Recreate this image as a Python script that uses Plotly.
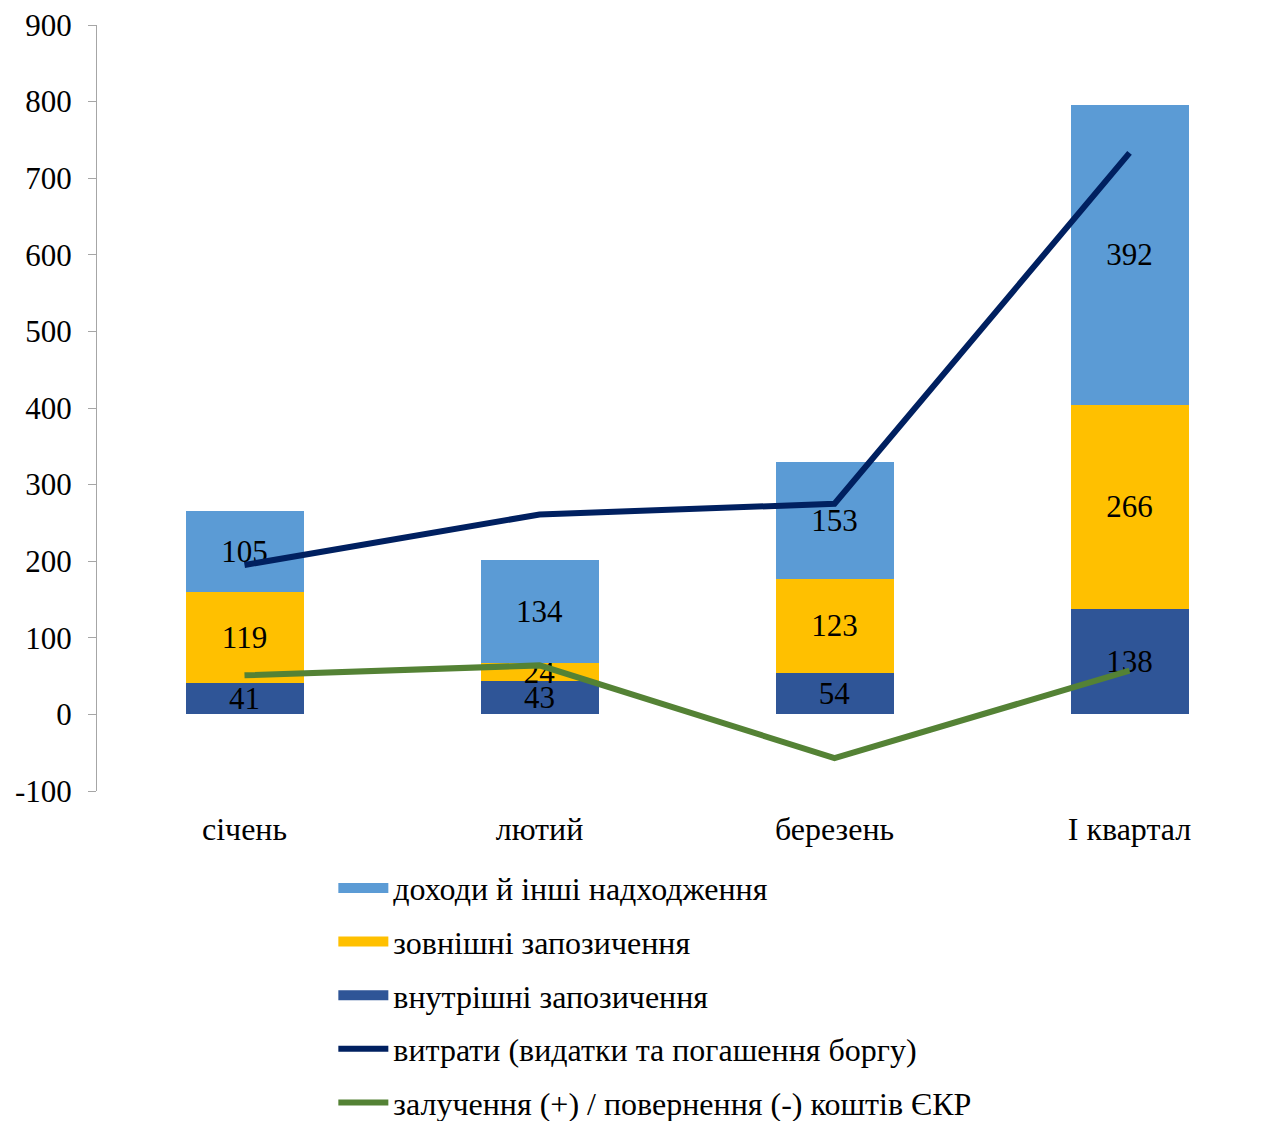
import plotly.graph_objects as go

categories = ["січень", "лютий", "березень", "І квартал"]
domestic = [41, 43, 54, 138]
external = [119, 24, 123, 266]
revenues = [105, 134, 153, 392]
expenditures = [195, 261, 275, 733]
skr = [51, 64, -57, 57]
y_ticks = [-100, 0, 100, 200, 300, 400, 500, 600, 700, 800, 900]
y_tick_text = ["-100", "0", "100", "200", "300", "400", "500", "600", "700", "800", "900"]

names = ["доходи й інші надходження", "зовнішні запозичення", "внутрішні запозичення",
         "витрати (видатки та погашення боргу)", "залучення (+) / повернення (-) коштів ЄКР"]

FONT = "Liberation Serif"
fig = go.Figure()

bar_specs = [(domestic, names[2], "#2F5597", 3),
             (external, names[1], "#FFC000", 2),
             (revenues, names[0], "#5B9BD5", 1)]
for vals, nm, col, rank in bar_specs:
    fig.add_trace(go.Bar(
        x=categories, y=vals, name=nm, marker=dict(color=col, line=dict(width=0)),
        text=[str(v) for v in vals], textposition="inside", insidetextanchor="middle",
        textangle=0, constraintext="none",
        textfont=dict(family=FONT, size=31, color="black"), showlegend=False,
        legendgroup=nm, width=0.4, cliponaxis=False))
    # legend entry drawn as a wide colour swatch
    fig.add_trace(go.Scatter(x=[None], y=[None], mode="lines", name=nm, legendgroup=nm,
                             line=dict(color=col, width=17), legendrank=rank,
                             hoverinfo="skip"))

fig.add_trace(go.Scatter(x=categories, y=expenditures, name=names[3], mode="lines",
                         line=dict(color="#002060", width=6), legendrank=4, legendgroup=names[3]))
fig.add_trace(go.Scatter(x=categories, y=skr, name=names[4], mode="lines",
                         line=dict(color="#548235", width=6), legendrank=5, legendgroup=names[4]))

fig.update_layout(
    width=1267, height=1121,
    margin=dict(l=97, r=0, t=25, b=330, autoexpand=False),
    paper_bgcolor="white", plot_bgcolor="white",
    font=dict(family=FONT, color="black"),
    barmode="stack", bargap=0.6,
    uniformtext=dict(minsize=31, mode="show"),
    xaxis=dict(type="category", range=[-0.5, 3.466], showline=False, showgrid=False,
               ticks="", tickfont=dict(size=32), zeroline=False, ticklabelstandoff=16,
               automargin=False),
    xaxis2=dict(overlaying="x", anchor="free", position=0.1, range=[-0.5, 3.466],
                showline=True, linecolor="#A6A6A6", linewidth=1, ticks="outside",
                ticklen=8, tickcolor="#A6A6A6", tickvals=[0.5, 1.5, 2.5],
                showticklabels=False, showgrid=False, zeroline=False, automargin=False),
    yaxis=dict(range=[-100, 900], tickvals=y_ticks, ticktext=y_tick_text, showgrid=False,
               zeroline=False, showline=True, linecolor="#A6A6A6", linewidth=1,
               ticks="outside", ticklen=8, tickcolor="#A6A6A6", tickfont=dict(size=31),
               ticklabelstandoff=10, automargin=False),
    legend=dict(orientation="v", x=0.202, xanchor="left", y=-0.091, yanchor="top",
                font=dict(size=32, family=FONT), tracegroupgap=9,
                bgcolor="rgba(0,0,0,0)", itemwidth=50),
    showlegend=True,
)

fig.write_html("out.html", config={"displayModeBar": False},
               post_script="document.body.style.margin='0';")
